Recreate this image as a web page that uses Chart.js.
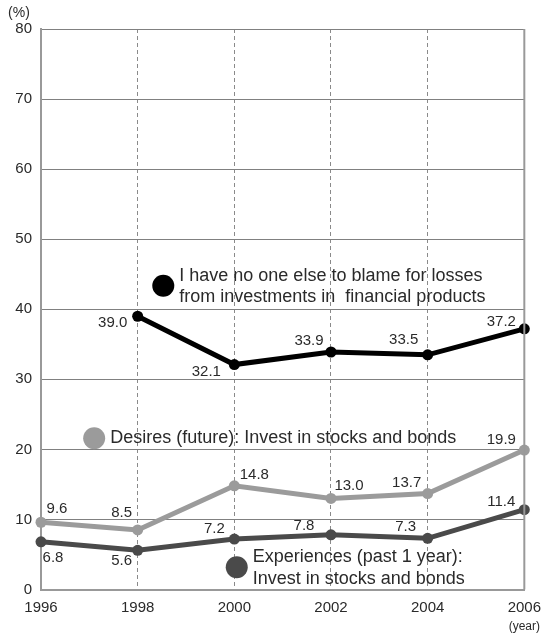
<!DOCTYPE html>
<html>
<head>
<meta charset="utf-8">
<script src="https://cdn.jsdelivr.net/npm/chart.js@4/dist/chart.umd.min.js"></script>
<style>
  html, body { margin: 0; padding: 0; background: #fff; }
  #wrap { width: 550px; height: 634px; position: relative; }
</style>
</head>
<body>
<div id="wrap"><canvas id="chart"></canvas></div>
<script>
// data
const years = [1996, 1998, 2000, 2002, 2004, 2006];
const blameSelf = [null, 39.0, 32.1, 33.9, 33.5, 37.2];
const desires = [9.6, 8.5, 14.8, 13.0, 13.7, 19.9];
const experiences = [6.8, 5.6, 7.2, 7.8, 7.3, 11.4];
const yTicks = [0, 10, 20, 30, 40, 50, 60, 70, 80];

const blameLabel = ['I have no one else to blame for losses', 'from investments in  financial products'];
const desiresLabel = ['Desires (future): Invest in stocks and bonds'];
const experiencesLabel = ['Experiences (past 1 year):', 'Invest in stocks and bonds'];

const FONT = '"Liberation Sans", Arial, sans-serif';
const TEXT = '#2a2a2a';

// where each value label sits relative to its point (px)
const blameOffsets = [null, [-25, 7], [-28, 7], [-22, -11], [-24, -15], [-23, -7]];
const desiresOffsets = [[16, -13], [-16, -17], [20, -11], [18, -13], [-21, -11], [-23, -10]];
const experiencesOffsets = [[12, 16], [-16, 11], [-20, -10], [-27, -9], [-22, -11], [-23, -8]];

function toPoints(vals) {
    return years.map((y, i) => ({ x: y, y: vals[i] }));
}

const valueLabels = {
    id: 'valueLabels',
    afterDatasetsDraw(chart) {
        const ctx = chart.ctx;
        ctx.save();
        ctx.font = '15px ' + FONT;
        ctx.fillStyle = TEXT;
        ctx.textAlign = 'center';
        ctx.textBaseline = 'middle';
        chart.data.datasets.forEach((ds, di) => {
            const meta = chart.getDatasetMeta(di);
            meta.data.forEach((pt, i) => {
                const v = ds.data[i].y;
                if (v == null) return;
                const off = ds.labelOffsets[i];
                ctx.fillText(v.toFixed(1), pt.x + off[0], pt.y + off[1]);
            });
        });
        ctx.restore();
    }
};

// inline legend: dot + text, anchored in data units
const notes = [
    { x: 1998.53, y: 43.35, lines: blameLabel, color: '#000' },
    { x: 1997.10, y: 21.6, lines: desiresLabel, color: '#9b9b9b' },
    { x: 2000.05, y: 3.17, lines: experiencesLabel, color: '#4a4a4a' }
];

const annotate = {
    id: 'annotate',
    afterDatasetsDraw(chart) {
        const ctx = chart.ctx;
        const xs = chart.scales.x, ys = chart.scales.y;
        const area = chart.chartArea;
        ctx.save();
        notes.forEach(n => {
            const cx = xs.getPixelForValue(n.x);
            const cy = ys.getPixelForValue(n.y);
            ctx.fillStyle = n.color;
            ctx.beginPath();
            ctx.arc(cx, cy, 11, 0, Math.PI * 2);
            ctx.fill();
            ctx.font = '18px ' + FONT;
            ctx.fillStyle = TEXT;
            ctx.textAlign = 'left';
            ctx.textBaseline = 'middle';
            const top = n.lines.length > 1 ? cy - 10 : cy;
            n.lines.forEach((t, k) => ctx.fillText(t, cx + 16, top + k * 21.6));
        });
        // frame on right edge
        ctx.strokeStyle = '#999';
        ctx.lineWidth = 2;
        ctx.beginPath();
        ctx.moveTo(area.right, area.top);
        ctx.lineTo(area.right, area.bottom);
        ctx.stroke();
        // unit captions
        ctx.fillStyle = TEXT;
        ctx.font = '14px ' + FONT;
        ctx.textAlign = 'center';
        ctx.textBaseline = 'middle';
        ctx.fillText('(%)', 19, 13);
        ctx.font = '12px ' + FONT;
        ctx.fillText('(year)', area.right, 627);
        ctx.restore();
    }
};

function series(label, vals, color, offsets) {
    return {
        label: label,
        data: toPoints(vals),
        borderColor: color,
        backgroundColor: color,
        pointBackgroundColor: color,
        pointBorderWidth: 0,
        borderWidth: 5,
        pointRadius: 5.5,
        tension: 0,
        spanGaps: false,
        clip: false,
        labelOffsets: offsets
    };
}

const ctx = document.getElementById('chart').getContext('2d');
const chart = new Chart(ctx, {
    type: 'line',
    data: {
        datasets: [
            series('Experiences', experiences, '#4a4a4a', experiencesOffsets),
            series('Desires', desires, '#9b9b9b', desiresOffsets),
            series('Blame', blameSelf, '#000', blameOffsets)
        ]
    },
    options: {
        responsive: true,
        maintainAspectRatio: false,
        animation: false,
        layout: { padding: { top: 29, right: 25, bottom: 0, left: 0 } },
        plugins: {
            legend: { display: false },
            tooltip: { enabled: false }
        },
        scales: {
            x: {
                type: 'linear',
                min: 1996,
                max: 2006,
                afterBuildTicks(scale) {
                    scale.ticks = years.map(v => ({ value: v }));
                },
                afterFit(scale) { scale.height = 44.5; },
                ticks: {
                    color: TEXT,
                    font: { family: FONT, size: 15 },
                    padding: 9,
                    maxRotation: 0,
                    callback: v => String(v)
                },
                grid: {
                    drawTicks: false,
                    color: c => (c.tick && (c.tick.value === 1996 || c.tick.value === 2006)) ? 'rgba(0,0,0,0)' : '#8a8a8a',
                    lineWidth: 1
                },
                border: { display: true, color: '#999', width: 2, dash: [4, 3] }
            },
            y: {
                min: 0,
                max: 80,
                afterBuildTicks(scale) {
                    scale.ticks = yTicks.map(v => ({ value: v }));
                },
                afterFit(scale) { scale.width = 41; },
                ticks: {
                    color: TEXT,
                    font: { family: FONT, size: 15 },
                    padding: 9
                },
                grid: {
                    drawTicks: false,
                    color: '#808080',
                    lineWidth: 1
                },
                border: { display: true, color: '#999', width: 2 }
            }
        }
    },
    plugins: [valueLabels, annotate]
});
</script>
</body>
</html>
